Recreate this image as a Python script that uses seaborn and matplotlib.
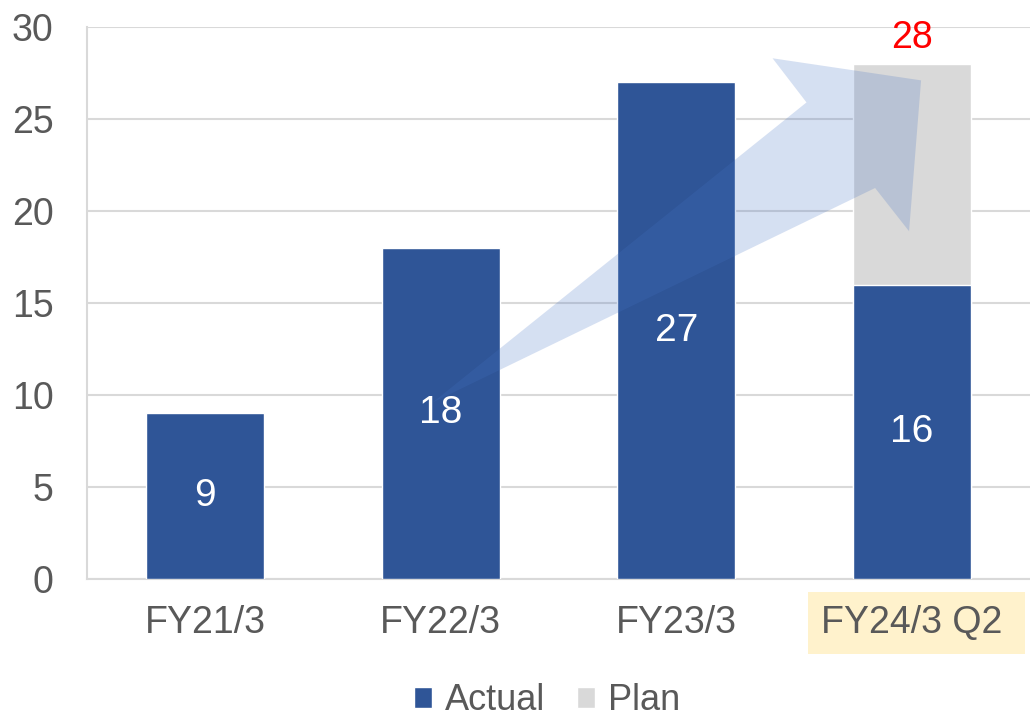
import matplotlib
matplotlib.use("Agg")
import matplotlib.pyplot as plt
from matplotlib.patches import Polygon, Rectangle, Patch
import seaborn as sns
import pandas as pd

# Data
categories = ["FY21/3", "FY22/3", "FY23/3", "FY24/3 Q2"]
actual = [9, 18, 27, 16]
plan_total = [0, 0, 0, 28]
plan_label = "28"

ACTUAL_COLOR = "#2F5597"
PLAN_COLOR = "#D9D9D9"
TEXT_COLOR = "#595959"
GRID_COLOR = "#D9D9D9"
FS = 27

sns.set_theme(style="white")
plt.rcParams["font.family"] = ["Liberation Sans", "DejaVu Sans"]

fig = plt.figure(figsize=(10.30, 7.22), dpi=100)
ax = fig.add_axes([87 / 1030, 1 - 579 / 722, 1 - 87 / 1030, (579 - 27) / 722])

df = pd.DataFrame({"category": categories, "actual": actual, "plan": plan_total})

# Plan (full height) behind, actual in front
sns.barplot(data=df, x="category", y="plan", color=PLAN_COLOR, width=0.5,
            saturation=1, ax=ax, zorder=2)
sns.barplot(data=df, x="category", y="actual", color=ACTUAL_COLOR, width=0.5,
            saturation=1, ax=ax, zorder=3)

# value labels inside the actual bars
actual_bars = ax.containers[1]
ax.bar_label(actual_bars, labels=[str(v) for v in actual], label_type="center",
             color="white", fontsize=FS + 1, zorder=5)
ax.text(3, plan_total[3] + 0.45, plan_label, ha="center", va="bottom",
        color="#FF0000", fontsize=FS, zorder=5)

# Growth arrow overlay
arrow_pts = [(0.967, 9.6), (2.552, 25.9), (2.408, 28.3), (3.038, 27.1),
             (2.987, 18.9), (2.843, 21.25)]
ax.add_patch(Polygon(arrow_pts, closed=True, facecolor="#4472C4", alpha=0.22,
                     edgecolor="none", zorder=4))

ax.set_xlim(-0.5, 3.5)
ax.set_ylim(0, 30)
ax.set_yticks(range(0, 31, 5))
ax.set_xlabel("")
ax.set_ylabel("")
ax.yaxis.grid(True, color=GRID_COLOR, linewidth=1.5, zorder=0)
ax.set_axisbelow(True)
for side in ["top", "right"]:
    ax.spines[side].set_visible(False)
for side in ["left", "bottom"]:
    ax.spines[side].set_color(GRID_COLOR)
    ax.spines[side].set_linewidth(1.5)
ax.tick_params(axis="y", length=0, pad=24, labelsize=FS, labelcolor=TEXT_COLOR)
ax.tick_params(axis="x", length=0, pad=19, labelsize=FS, labelcolor=TEXT_COLOR)

# Highlight box behind the latest period label
ax.add_patch(Rectangle((808 / 1030, 1 - 654 / 722), 217 / 1030, 62 / 722,
                       transform=fig.transFigure, facecolor="#FFF2CC",
                       edgecolor="none", clip_on=False, zorder=0.5))

handles = [Patch(facecolor=ACTUAL_COLOR, label="Actual"),
           Patch(facecolor=PLAN_COLOR, label="Plan")]
leg = fig.legend(handles=handles, loc="center", bbox_to_anchor=(547 / 1030, 1 - 701 / 722),
                 ncol=2, frameon=False, fontsize=FS - 1, handlelength=0.5, handleheight=0.5,
                 handletextpad=0.35, columnspacing=0.9, borderaxespad=0, borderpad=0)
for t in leg.get_texts():
    t.set_color(TEXT_COLOR)

fig.savefig("out.png", dpi=100)
